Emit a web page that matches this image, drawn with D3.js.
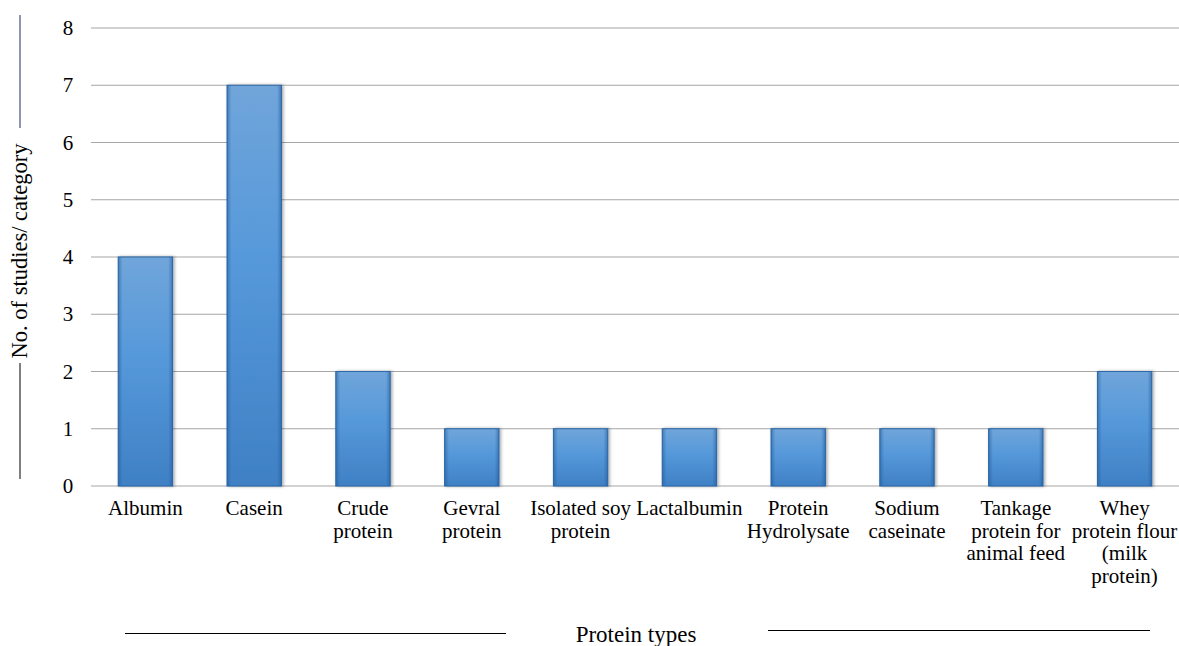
<!DOCTYPE html>
<html><head><meta charset="utf-8"><script src="https://cdn.jsdelivr.net/npm/d3@7"></script></head>
<body style="margin:0">
<svg id="chart" width="1179" height="646"></svg>
<script>
// Protein types and number of studies per category
const categories = [
  "Albumin", "Casein", "Crude protein", "Gevral protein", "Isolated soy protein",
  "Lactalbumin", "Protein Hydrolysate", "Sodium caseinate",
  "Tankage protein for animal feed", "Whey protein flour (milk protein)"
];
const categoryLines = [
  ["Albumin"],
  ["Casein"],
  ["Crude", "protein"],
  ["Gevral", "protein"],
  ["Isolated soy", "protein"],
  ["Lactalbumin"],
  ["Protein", "Hydrolysate"],
  ["Sodium", "caseinate"],
  ["Tankage", "protein for", "animal feed"],
  ["Whey", "protein flour", "(milk", "protein)"]
];
const studies = [4, 7, 2, 1, 1, 1, 1, 1, 1, 2];
const yTicks = [0, 1, 2, 3, 4, 5, 6, 7, 8];
const yTitle = "No. of studies/ category";
const xTitle = "Protein types";

const FONT = "Liberation Serif";

const svg = d3.select("#chart");
const margin = { left: 91, right: 0, top: 28 };
const width = 1179;
const plotBottom = 486;

const x = d3.scaleBand()
  .domain(categories)
  .range([margin.left, width - margin.right])
  .paddingInner(0.5)
  .paddingOuter(0.25);

const y = d3.scaleLinear()
  .domain([0, 8])
  .range([plotBottom, margin.top]);

// Bar gradient, edge shading and shadow
const defs = svg.append("defs");
const grad = defs.append("linearGradient")
  .attr("id", "barGrad").attr("x1", 0).attr("y1", 0).attr("x2", 0).attr("y2", 1);
grad.append("stop").attr("offset", "0%").attr("stop-color", "#70a5da");
grad.append("stop").attr("offset", "45%").attr("stop-color", "#5598da");
grad.append("stop").attr("offset", "100%").attr("stop-color", "#3f80c4");

const edgeGrad = defs.append("linearGradient")
  .attr("id", "edgeGrad").attr("x1", 0).attr("y1", 0).attr("x2", 1).attr("y2", 0);
edgeGrad.append("stop").attr("offset", "0%").attr("stop-color", "#1f5a9a").attr("stop-opacity", 0.55);
edgeGrad.append("stop").attr("offset", "8%").attr("stop-color", "#1f5a9a").attr("stop-opacity", 0);
edgeGrad.append("stop").attr("offset", "92%").attr("stop-color", "#1f5a9a").attr("stop-opacity", 0);
edgeGrad.append("stop").attr("offset", "100%").attr("stop-color", "#1f5a9a").attr("stop-opacity", 0.55);

const shadow = defs.append("filter").attr("id", "shadow")
  .attr("x", "-20%").attr("y", "-10%").attr("width", "140%").attr("height", "120%");
shadow.append("feDropShadow")
  .attr("dx", 1.5).attr("dy", 0).attr("stdDeviation", 1.5)
  .attr("flood-color", "#000").attr("flood-opacity", 0.35);

// Gridlines
svg.append("g")
  .selectAll("line")
  .data(yTicks)
  .join("line")
  .attr("x1", margin.left).attr("x2", width)
  .attr("y1", d => y(d)).attr("y2", d => y(d))
  .attr("stroke", "#a6a6a6").attr("stroke-width", 1.2);

// Y tick labels
svg.append("g")
  .selectAll("text")
  .data(yTicks)
  .join("text")
  .attr("x", 68)
  .attr("y", d => y(d) + 7)
  .attr("text-anchor", "middle")
  .attr("font-family", FONT)
  .attr("font-size", 21)
  .text(d => d3.format("d")(d));

// Bars
const bars = svg.append("g");
bars.selectAll("rect.bar")
  .data(studies)
  .join("rect")
  .attr("class", "bar")
  .attr("x", (d, i) => x(categories[i]))
  .attr("y", d => y(d))
  .attr("width", x.bandwidth())
  .attr("height", d => y(0) - y(d))
  .attr("fill", "url(#barGrad)")
  .attr("stroke", "#2f6aa8")
  .attr("stroke-width", 1)
  .attr("filter", "url(#shadow)");
bars.selectAll("rect.edge")
  .data(studies)
  .join("rect")
  .attr("class", "edge")
  .attr("x", (d, i) => x(categories[i]))
  .attr("y", d => y(d))
  .attr("width", x.bandwidth())
  .attr("height", d => y(0) - y(d))
  .attr("fill", "url(#edgeGrad)");

// Category labels
const labels = svg.append("g");
categories.forEach((c, i) => {
  const cx = x(c) + x.bandwidth() / 2;
  const t = labels.append("text")
    .attr("x", cx)
    .attr("y", 515)
    .attr("text-anchor", "middle")
    .attr("font-family", FONT)
    .attr("font-size", 21);
  categoryLines[i].forEach((line, j) => {
    t.append("tspan")
      .attr("x", cx)
      .attr("dy", j === 0 ? 0 : 22.5)
      .text(line);
  });
});

// Y axis title with rule lines
svg.append("line").attr("x1", 20).attr("x2", 20).attr("y1", 15).attr("y2", 128)
  .attr("stroke", "#1f2a6b").attr("stroke-width", 1);
svg.append("line").attr("x1", 20).attr("x2", 20).attr("y1", 363).attr("y2", 479)
  .attr("stroke", "#000").attr("stroke-width", 1);
svg.append("text")
  .attr("transform", "translate(27,251) rotate(-90)")
  .attr("text-anchor", "middle")
  .attr("font-family", FONT)
  .attr("font-size", 22.5)
  .text(yTitle);

// X axis title with rule lines
svg.append("line").attr("x1", 125).attr("x2", 506).attr("y1", 633.5).attr("y2", 633.5)
  .attr("stroke", "#000").attr("stroke-width", 1);
svg.append("line").attr("x1", 768).attr("x2", 1150).attr("y1", 630.5).attr("y2", 630.5)
  .attr("stroke", "#000").attr("stroke-width", 1);
svg.append("text")
  .attr("x", 636).attr("y", 642)
  .attr("text-anchor", "middle")
  .attr("font-family", FONT)
  .attr("font-size", 23)
  .text(xTitle);
</script>
</body>
</html>
